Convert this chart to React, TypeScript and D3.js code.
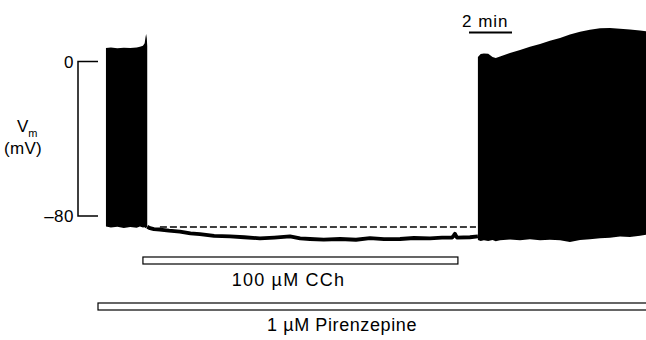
import * as d3 from "d3";
import { useEffect, useRef } from "react";

// time in minutes, membrane potential in mV
const burst1Time = [0.37, 0.6, 0.9, 1.2, 1.5, 1.8, 1.95, 2.09, 2.17, 2.21, 2.24, 2.27, 2.29];
const burst1Top = [7.0, 7.2, 6.9, 7.1, 7.0, 7.3, 7.6, 8.2, 9.5, 12.5, 14.2, 12.0, 8.0];
const burst1Bottom = [-85.4, -86.0, -85.6, -86.2, -85.7, -86.1, -85.5, -86.0, -85.8, -86.3, -85.9, -86.0, -86.0];

const restTime = [2.29, 2.42, 2.6, 2.88, 3.3, 3.81, 4.3, 4.74, 5.4, 6.14, 6.8, 7.53, 8.2, 8.93, 9.4, 9.86,
  10.5, 11.26, 12.0, 12.65, 13.3, 14.05, 14.7, 15.44, 16.0, 16.47, 16.55, 16.6, 16.66, 16.7, 17.3, 17.67];
const restVm = [-85.6, -86.3, -86.8, -87.0, -87.6, -88.1, -89.0, -89.4, -90.3, -90.6, -91.0, -91.6, -91.2, -90.6, -91.6, -91.9,
  -92.2, -91.9, -92.3, -91.5, -92.0, -91.9, -91.4, -91.6, -91.2, -91.2, -90.0, -89.2, -90.4, -91.2, -91.0, -90.6];

const baselineTime = [2.88, 17.58];
const baselineVm = [-85.7, -85.7];

const burst2Time = [17.67, 17.8, 17.95, 18.15, 18.35, 18.5, 18.7, 19.16, 19.63, 20.09, 20.56, 21.02, 21.49, 21.95,
  22.42, 22.88, 23.35, 23.81, 24.28, 24.74, 25.21, 25.6, 26.0];
const burst2Top = [2.3, 3.9, 4.2, 4.0, 2.3, 1.8, 2.6, 4.4, 6.0, 7.6, 9.0, 10.8, 12.2, 14.0,
  15.4, 16.4, 17.2, 17.4, 17.0, 16.6, 16.0, 15.6, 15.4];
const burst2Bottom = [-92.4, -93.0, -92.6, -92.9, -92.4, -93.1, -92.6, -92.2, -92.5, -92.0, -92.6, -92.3, -92.6, -93.4,
  -92.4, -92.0, -91.5, -91.2, -90.6, -90.9, -90.2, -89.6, -89.4];

const cchBar = [2.09, 16.74];
const pirenzepineBar = [0, 27];
const scaleBarMin = 2;
const yTicks = [0, -80];

const App = () => {
  const ref = useRef<SVGSVGElement>(null);

  useEffect(() => {
    const svg = d3.select(ref.current);
    svg.selectAll("*").remove();

    const x = d3.scaleLinear().domain([0, 26]).range([98, 98 + 26 * 21.5]);
    const y = d3.scaleLinear().domain([-80, 0]).range([216, 61.5]);
    const font = "Arial, 'Liberation Sans', sans-serif";

    // burst 1
    svg.append("path")
      .attr("d", d3.area<number>()
        .x((d, i) => x(burst1Time[i]))
        .y0((d, i) => y(burst1Bottom[i]))
        .y1((d, i) => y(burst1Top[i]))(burst1Time))
      .attr("fill", "#000");

    // burst 2
    svg.append("path")
      .attr("d", d3.area<number>()
        .x((d, i) => x(burst2Time[i]))
        .y0((d, i) => y(burst2Bottom[i]))
        .y1((d, i) => y(burst2Top[i]))(burst2Time))
      .attr("fill", "#000");

    // hyperpolarised trace
    svg.append("path")
      .attr("d", d3.line<number>()
        .x((d, i) => x(restTime[i]))
        .y(d => y(d))(restVm))
      .attr("fill", "none")
      .attr("stroke", "#000")
      .attr("stroke-width", 3.8)
      .attr("stroke-linejoin", "round");

    // dashed baseline
    svg.append("path")
      .attr("d", d3.line<number>()
        .x((d, i) => x(baselineTime[i]))
        .y(d => y(d))(baselineVm))
      .attr("fill", "none")
      .attr("stroke", "#000")
      .attr("stroke-width", 1.6)
      .attr("stroke-dasharray", "7,3");

    // voltage scale
    const ax = 78;
    svg.append("path")
      .attr("d", `M${ax + 20},${y(0)}H${ax}V${y(-80)}H${ax + 20}`)
      .attr("fill", "none")
      .attr("stroke", "#000")
      .attr("stroke-width", 1.5);

    svg.selectAll(".ytick")
      .data(yTicks)
      .enter()
      .append("text")
      .attr("x", ax - 4)
      .attr("y", d => y(d) + 6)
      .attr("text-anchor", "end")
      .attr("font-family", font)
      .attr("font-size", 17)
      .attr("letter-spacing", 0.5)
      .text(d => d === 0 ? "0" : "\u2013" + Math.abs(d));

    const vm = svg.append("text")
      .attr("x", 17)
      .attr("y", 132)
      .attr("font-family", font)
      .attr("font-size", 17);
    vm.append("tspan").text("V");
    vm.append("tspan").attr("font-size", 11).attr("dy", 5).text("m");

    svg.append("text")
      .attr("x", 23)
      .attr("y", 154)
      .attr("text-anchor", "middle")
      .attr("font-family", font)
      .attr("font-size", 17)
      .attr("letter-spacing", 0.3)
      .text("(mV)");

    // time scale bar
    svg.append("line")
      .attr("x1", 469)
      .attr("x2", 469 + x(scaleBarMin) - x(0))
      .attr("y1", 32.5)
      .attr("y2", 32.5)
      .attr("stroke", "#000")
      .attr("stroke-width", 1.8);
    svg.append("text")
      .attr("x", 462)
      .attr("y", 27)
      .attr("font-family", font)
      .attr("font-size", 17)
      .attr("letter-spacing", 1)
      .text("2 min");

    // drug bars
    const bars = [
      { range: cchBar, top: 257, label: "100 \u00b5M CCh", ly: 286, cx: 288.5, ls: 1.2 },
      { range: pirenzepineBar, top: 303, label: "1 \u00b5M Pirenzepine", ly: 331, cx: 342, ls: 0.6 },
    ];
    svg.selectAll(".bar")
      .data(bars)
      .enter()
      .append("rect")
      .attr("x", d => x(d.range[0]))
      .attr("y", d => d.top)
      .attr("width", d => x(d.range[1]) - x(d.range[0]))
      .attr("height", 7)
      .attr("fill", "#fff")
      .attr("stroke", "#000")
      .attr("stroke-width", 1.2);

    svg.selectAll(".barlabel")
      .data(bars)
      .enter()
      .append("text")
      .attr("x", d => d.cx)
      .attr("y", d => d.ly)
      .attr("text-anchor", "middle")
      .attr("font-family", font)
      .attr("font-size", 18)
      .attr("letter-spacing", d => d.ls)
      .text(d => d.label);
  });

  return (
    <svg ref={ref} width="646" height="340" style={{ position: "absolute", left: 0, top: 0, background: "#fff" }} />
  );
};

export default App;
